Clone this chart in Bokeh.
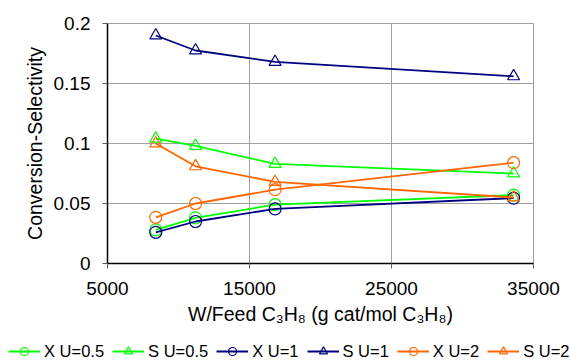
from bokeh.plotting import figure
from bokeh.layouts import column
from bokeh.models import Legend, LegendItem, FixedTicker, NumeralTickFormatter, Range1d
from bokeh.embed import file_html
from bokeh.resources import INLINE

# Data
w_feed = [8400, 11200, 16800, 33600]
x_u05 = [0.028, 0.038, 0.049, 0.057]
s_u05 = [0.104, 0.098, 0.083, 0.075]
x_u1 = [0.026, 0.035, 0.0455, 0.0545]
s_u1 = [0.190, 0.1775, 0.168, 0.156]
x_u2 = [0.0385, 0.050, 0.0615, 0.084]
s_u2 = [0.100, 0.081, 0.068, 0.055]

series_names = ["X U=0.5", "S U=0.5", "X U=1", "S U=1", "X U=2", "S U=2"]
series_values = [x_u05, s_u05, x_u1, s_u1, x_u2, s_u2]
series_colors = ["#00FF00", "#00FF00", "#000080", "#000080", "#FF6600", "#FF6600"]
series_markers = ["circle", "triangle", "circle", "triangle", "circle", "triangle"]

x_ticks = [5000, 15000, 25000, 35000]
y_ticks = [0, 0.05, 0.1, 0.15, 0.2]

FONT = "Liberation Sans"

p = figure(width=570, height=332, x_range=(5000, 35000), y_range=(0, 0.2),
           output_backend="svg", toolbar_location=None,
           min_border_left=107, min_border_right=37, min_border_top=23, min_border_bottom=69)

p.outline_line_color = "#A0A0A0"
p.outline_line_width = 1
p.background_fill_color = "white"

p.xgrid.grid_line_color = "#A0A0A0"
p.ygrid.grid_line_color = "#A0A0A0"
p.xgrid.grid_line_width = 1
p.ygrid.grid_line_width = 1

p.xaxis.ticker = FixedTicker(ticks=x_ticks)
p.yaxis.ticker = FixedTicker(ticks=y_ticks)
p.yaxis.formatter = NumeralTickFormatter(format="0.[00]")
p.xaxis.formatter = NumeralTickFormatter(format="0")

for ax in (p.xaxis, p.yaxis):
    ax.axis_line_color = "black"
    ax.axis_line_width = 1.5
    ax.major_tick_line_color = "#606060"
    ax.major_tick_in = 0
    ax.major_tick_out = 5
    ax.minor_tick_line_color = None
    ax.major_label_text_font = FONT
    ax.major_label_text_font_size = "19px"
    ax.major_label_text_color = "black"
    ax.axis_label_text_font = FONT
    ax.axis_label_text_font_size = "19.5px"
    ax.axis_label_text_font_style = "normal"
    ax.axis_label_text_color = "black"

p.xaxis.major_label_standoff = 13
p.yaxis.major_label_standoff = 12
p.xaxis.axis_label_standoff = 5
p.yaxis.axis_label_standoff = 5
p.xaxis.axis_label = "W/Feed C\u2083H\u2088 (g cat/mol C\u2083H\u2088)"
p.yaxis.axis_label = "Conversion-Selectivity"

for vals, col, mk in zip(series_values, series_colors, series_markers):
    p.line(w_feed, vals, line_color=col, line_width=1.8)
    p.scatter(w_feed, vals, marker=mk, size=12, line_color=col, line_width=1.2, fill_alpha=0)

# Legend strip below the chart (same series, drawn outside its own view, legend only)
lp = figure(width=570, height=28, x_range=Range1d(0, 1), y_range=Range1d(0, 1),
            output_backend="svg", toolbar_location=None,
            x_axis_type=None, y_axis_type=None,
            min_border_left=0, min_border_right=0, min_border_top=0, min_border_bottom=0)
lp.outline_line_color = None
lp.xgrid.visible = False
lp.ygrid.visible = False

legend_x = 8
try:
    lp.frame_align = False
except Exception:
    legend_x = -99

items = []
for name, vals, col, mk in zip(series_names, series_values, series_colors, series_markers):
    lr = lp.line(w_feed, vals, line_color=col, line_width=1.8)
    sr = lp.scatter(w_feed, vals, marker=mk, size=12, line_color=col, line_width=1.2,
                    fill_alpha=0)
    items.append(LegendItem(label=name, renderers=[lr, sr]))

legend = Legend(items=items, orientation="horizontal", location=(legend_x, -1),
                glyph_width=32, glyph_height=20, label_standoff=4, spacing=8,
                padding=0, margin=0, border_line_color=None, background_fill_alpha=0,
                label_text_font=FONT, label_text_font_size="16.5px", label_text_color="black")
lp.add_layout(legend, "center")

layout = column(p, lp, spacing=0)
open("out.html", "w").write(file_html(layout, INLINE))
